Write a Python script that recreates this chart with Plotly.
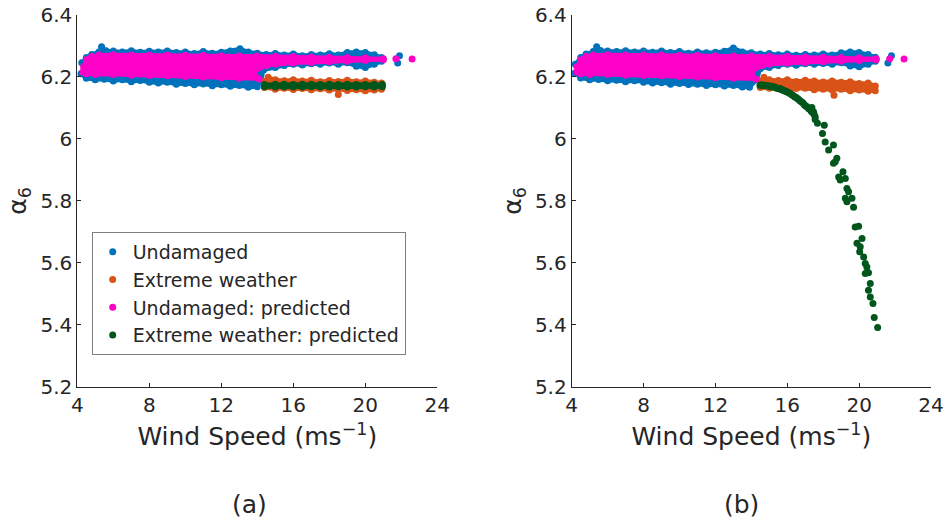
import plotly.graph_objects as go

# ---------------- colours ----------------
C_BLUE = "#0072BD"
C_ORANGE = "#D95319"
C_PINK = "#FF00C8"
C_GREEN = "#00561B"

# ---------------- axis ticks ----------------
x_ticks = [4, 8, 12, 16, 20, 24]
x_tick_labels = ["4", "8", "12", "16", "20", "24"]
y_ticks = [5.2, 5.4, 5.6, 5.8, 6.0, 6.2, 6.4]
y_tick_labels = ["5.2", "5.4", "5.6", "5.8", "6", "6.2", "6.4"]

# ---------------- (a) Undamaged cloud: upper / lower edge -------------
blue_a_top_x = [4.25, 4.5, 4.8, 5.2, 5.35, 5.6, 6.0, 6.5, 7.0, 7.5, 8.0, 8.5, 9.0, 9.5, 10.0, 10.5,
                11.0, 11.5, 12.0, 12.5, 13.04, 13.5, 14.0, 14.5, 15.0, 15.5, 16.0, 16.5, 17.0,
                17.5, 18.0, 18.5, 19.0, 19.5, 20.0, 20.5, 20.9]
blue_a_top_y = [6.245, 6.262, 6.272, 6.280, 6.297, 6.284, 6.283, 6.280, 6.284, 6.279, 6.282, 6.280,
                6.283, 6.278, 6.280, 6.275, 6.281, 6.276, 6.279, 6.283, 6.290, 6.280, 6.276, 6.272,
                6.275, 6.270, 6.273, 6.268, 6.272, 6.270, 6.274, 6.270, 6.278, 6.280, 6.278,
                6.271, 6.262]
blue_a_bot_x = [4.2, 4.5, 5.0, 5.5, 6.0, 6.5, 7.0, 7.5, 8.0, 8.5, 9.0, 9.5, 10.0, 10.5, 11.0, 11.5,
                12.0, 12.5, 13.0, 13.5, 14.0, 14.2, 14.35, 15.0, 15.5, 16.0, 16.5, 17.0, 17.5,
                18.0, 18.5, 19.0, 19.5, 20.0, 20.5, 20.9]
blue_a_bot_y = [6.210, 6.195, 6.190, 6.192, 6.186, 6.190, 6.184, 6.188, 6.182, 6.180, 6.182, 6.176,
                6.178, 6.174, 6.177, 6.171, 6.174, 6.169, 6.172, 6.166, 6.168, 6.185, 6.222, 6.230,
                6.236, 6.240, 6.238, 6.242, 6.240, 6.244, 6.240, 6.245, 6.234, 6.230, 6.240, 6.250]
blue_a_extra_x = [21.9, 21.8]
blue_a_extra_y = [6.268, 6.244]

# ---------------- (a) Extreme weather cloud ----------------
orange_a_top_x = [14.4, 14.6, 15.0, 15.5, 16.0, 16.5, 17.0, 17.5, 18.0, 18.5, 19.0, 19.5, 20.0, 20.5, 20.9]
orange_a_top_y = [6.185, 6.198, 6.190, 6.187, 6.190, 6.186, 6.189, 6.184, 6.188, 6.185, 6.189, 6.184,
                  6.186, 6.182, 6.180]
orange_a_bot_x = [14.4, 15.0, 15.5, 16.0, 16.5, 17.0, 17.5, 18.0, 18.5, 19.0, 19.5, 20.0, 20.5, 20.9]
orange_a_bot_y = [6.165, 6.160, 6.163, 6.159, 6.162, 6.158, 6.161, 6.157, 6.160, 6.156, 6.158, 6.155,
                  6.157, 6.160]
orange_a_extra_x = [18.5]
orange_a_extra_y = [6.143]

# ---------------- (a) Undamaged: predicted cloud ----------------
pink_a_top_x = [4.35, 4.5, 4.8, 5.2, 6.0, 7.0, 8.0, 9.0, 10.0, 11.0, 12.0, 13.0, 14.0, 15.0, 16.0,
                17.0, 18.0, 19.0, 20.0, 21.0]
pink_a_top_y = [6.232, 6.255, 6.265, 6.270, 6.271, 6.270, 6.270, 6.270, 6.269, 6.269, 6.268, 6.267,
                6.267, 6.266, 6.265, 6.264, 6.263, 6.262, 6.261, 6.258]
pink_a_bot_x = [4.3, 4.5, 5.0, 6.0, 7.0, 8.0, 9.0, 10.0, 11.0, 12.0, 13.0, 14.1, 13.8, 14.5, 15.0,
                16.0, 17.0, 18.0, 19.0, 20.0, 21.0]
pink_a_bot_y = [6.215, 6.210, 6.207, 6.207, 6.205, 6.204, 6.203, 6.201, 6.199, 6.197, 6.195, 6.193,
                6.215, 6.236, 6.240, 6.244, 6.246, 6.248, 6.250, 6.252, 6.255]
pink_a_extra_x = [21.7, 22.6]
pink_a_extra_y = [6.258, 6.257]

# ---------------- (a) Extreme weather: predicted ----------------
green_a_top_x = [14.4, 15.0, 15.5, 16.0, 16.5, 17.0, 17.5, 18.0, 18.5, 19.0, 19.5, 20.0, 20.5, 20.95]
green_a_top_y = [6.175, 6.176, 6.176, 6.175, 6.176, 6.176, 6.175, 6.176, 6.175, 6.176, 6.175, 6.175,
                 6.176, 6.175]
green_a_bot_x = [14.4, 15.0, 15.5, 16.0, 16.5, 17.0, 17.5, 18.0, 18.5, 19.0, 19.5, 20.0, 20.5, 20.95]
green_a_bot_y = [6.168, 6.167, 6.168, 6.167, 6.167, 6.168, 6.167, 6.167, 6.168, 6.167, 6.167, 6.168,
                 6.167, 6.168]

# ---------------- (b) Undamaged cloud ----------------
blue_b_top_x = [4.2, 4.5, 4.8, 5.2, 5.39, 5.6, 6.0, 6.5, 7.0, 7.5, 8.0, 8.5, 9.0, 9.5, 10.0, 10.5,
                11.0, 11.5, 12.0, 12.5, 13.0, 13.5, 14.0, 14.5, 15.0, 15.5, 16.0, 16.5, 17.0,
                17.5, 18.0, 18.5, 19.0, 19.5, 20.0, 20.5, 20.9]
blue_b_top_y = [6.240, 6.262, 6.273, 6.281, 6.297, 6.285, 6.283, 6.281, 6.284, 6.280, 6.283, 6.279,
                6.283, 6.278, 6.281, 6.276, 6.280, 6.277, 6.279, 6.282, 6.293, 6.280, 6.277, 6.273,
                6.275, 6.271, 6.273, 6.269, 6.272, 6.270, 6.273, 6.270, 6.277, 6.280, 6.278,
                6.272, 6.263]
blue_b_bot_x = [4.18, 4.5, 5.0, 5.5, 6.0, 6.5, 7.0, 7.5, 8.0, 8.5, 9.0, 9.5, 10.0, 10.5, 11.0, 11.5,
                12.0, 12.5, 13.0, 13.5, 13.9, 14.3, 14.5, 15.0, 15.5, 16.0, 16.5, 17.0, 17.5,
                18.0, 18.5, 19.0, 19.5, 20.0, 20.5, 20.9]
blue_b_bot_y = [6.212, 6.196, 6.190, 6.191, 6.187, 6.189, 6.184, 6.187, 6.182, 6.180, 6.181, 6.176,
                6.178, 6.175, 6.176, 6.172, 6.174, 6.170, 6.172, 6.167, 6.166, 6.190, 6.226, 6.230,
                6.236, 6.240, 6.237, 6.242, 6.240, 6.243, 6.240, 6.245, 6.235, 6.232, 6.240, 6.250]
blue_b_extra_x = [21.8, 21.6]
blue_b_extra_y = [6.268, 6.244]

# ---------------- (b) Extreme weather cloud ----------------
orange_b_top_x = [14.5, 14.7, 15.0, 15.5, 16.0, 16.5, 17.0, 17.5, 18.0, 18.5, 19.0, 19.5, 20.0, 20.5, 20.9]
orange_b_top_y = [6.185, 6.198, 6.190, 6.188, 6.190, 6.185, 6.189, 6.186, 6.183, 6.186, 6.182, 6.184,
                  6.178, 6.180, 6.170]
orange_b_bot_x = [14.5, 15.0, 15.5, 16.0, 16.5, 17.0, 17.5, 18.0, 18.5, 19.0, 19.5, 20.0, 20.5, 20.9]
orange_b_bot_y = [6.165, 6.163, 6.166, 6.160, 6.162, 6.163, 6.158, 6.160, 6.157, 6.160, 6.155, 6.157,
                  6.153, 6.155]
orange_b_extra_x = [18.6]
orange_b_extra_y = [6.140]

# ---------------- (b) Undamaged: predicted cloud ----------------
pink_b_top_x = [4.3, 4.5, 4.8, 5.2, 6.0, 7.0, 8.0, 9.0, 10.0, 11.0, 12.0, 13.0, 14.0, 15.0, 16.0,
                17.0, 18.0, 19.0, 20.0, 20.95]
pink_b_top_y = [6.232, 6.255, 6.265, 6.270, 6.271, 6.270, 6.270, 6.270, 6.269, 6.269, 6.268, 6.267,
                6.267, 6.266, 6.265, 6.264, 6.263, 6.262, 6.261, 6.258]
pink_b_bot_x = [4.3, 4.5, 5.0, 6.0, 7.0, 8.0, 9.0, 10.0, 11.0, 12.0, 13.0, 14.25, 14.0, 14.6, 15.0,
                16.0, 17.0, 18.0, 19.0, 20.0, 20.95]
pink_b_bot_y = [6.215, 6.210, 6.207, 6.207, 6.205, 6.204, 6.203, 6.201, 6.199, 6.197, 6.195, 6.193,
                6.215, 6.236, 6.240, 6.244, 6.246, 6.248, 6.250, 6.252, 6.255]
pink_b_extra_x = [21.7, 22.5]
pink_b_extra_y = [6.258, 6.257]

# ---------------- (b) Extreme weather: predicted (individual points) ----------------
green_b_x = [14.48, 14.55, 14.62, 14.70, 14.78, 14.85, 14.93, 15.00, 15.08, 15.15, 15.23, 15.30,
             15.38, 15.45, 15.52, 15.60, 15.68, 15.75, 15.83, 15.90, 15.98, 16.05, 16.12, 16.20,
             16.27, 16.35, 16.42, 16.50, 16.58, 16.65, 16.72, 16.80, 16.88, 16.95, 17.02, 17.10,
             17.18, 17.25, 17.32, 17.37, 17.40, 17.46, 17.50, 17.55, 17.55, 17.68, 18.06, 17.96,
             18.11, 18.30, 18.57, 18.76, 18.57, 18.67, 19.10, 18.86, 19.23, 18.95, 19.32, 19.41,
             19.23, 19.60, 19.32, 19.69, 19.78, 19.97, 19.88, 20.16, 20.06, 20.03, 20.25, 20.34,
             20.43, 20.52, 20.34, 20.62, 20.52, 20.62, 20.77, 20.84, 21.03]
green_b_y = [6.173, 6.174, 6.172, 6.173, 6.171, 6.172, 6.170, 6.170, 6.168, 6.169, 6.166, 6.167,
             6.164, 6.163, 6.161, 6.162, 6.158, 6.157, 6.155, 6.153, 6.152, 6.149, 6.147, 6.145,
             6.141, 6.139, 6.135, 6.133, 6.129, 6.126, 6.122, 6.119, 6.115, 6.110, 6.106, 6.103,
             6.098, 6.096, 6.090, 6.101, 6.085, 6.087, 6.078, 6.071, 6.062, 6.050, 6.044, 6.017,
             5.990, 5.964, 5.980, 5.937, 5.921, 5.926, 5.894, 5.877, 5.872, 5.867, 5.840, 5.829,
             5.808, 5.808, 5.797, 5.779, 5.716, 5.718, 5.663, 5.679, 5.652, 5.636, 5.619, 5.598,
             5.587, 5.568, 5.566, 5.534, 5.512, 5.490, 5.469, 5.424, 5.392]

MS = 7  # marker diameter (px)

fig = go.Figure()


def add_cloud(top_x, top_y, bot_x, bot_y, ex_x, ex_y, color, name, xa, ya, legend):
    # filled body of a dense point cloud (outline through the edge points)
    fig.add_trace(go.Scatter(
        x=list(top_x) + list(reversed(bot_x)),
        y=list(top_y) + list(reversed(bot_y)),
        mode="lines", fill="toself", fillcolor=color,
        line=dict(color=color, width=4),
        hoverinfo="skip", showlegend=False, xaxis=xa, yaxis=ya))
    # the edge points themselves plus stray points
    fig.add_trace(go.Scatter(
        x=list(top_x) + list(bot_x) + list(ex_x),
        y=list(top_y) + list(bot_y) + list(ex_y),
        mode="markers", marker=dict(color=color, size=MS, line=dict(width=0)),
        name=name, showlegend=legend, xaxis=xa, yaxis=ya))


# panel (a)
add_cloud(blue_a_top_x, blue_a_top_y, blue_a_bot_x, blue_a_bot_y, blue_a_extra_x, blue_a_extra_y,
          C_BLUE, "Undamaged", "x", "y", True)
add_cloud(orange_a_top_x, orange_a_top_y, orange_a_bot_x, orange_a_bot_y, orange_a_extra_x,
          orange_a_extra_y, C_ORANGE, "Extreme weather", "x", "y", True)
add_cloud(pink_a_top_x, pink_a_top_y, pink_a_bot_x, pink_a_bot_y, pink_a_extra_x, pink_a_extra_y,
          C_PINK, "Undamaged: predicted", "x", "y", True)
add_cloud(green_a_top_x, green_a_top_y, green_a_bot_x, green_a_bot_y, [], [],
          C_GREEN, "Extreme weather: predicted", "x", "y", True)

# panel (b)
add_cloud(blue_b_top_x, blue_b_top_y, blue_b_bot_x, blue_b_bot_y, blue_b_extra_x, blue_b_extra_y,
          C_BLUE, "Undamaged", "x2", "y2", False)
add_cloud(orange_b_top_x, orange_b_top_y, orange_b_bot_x, orange_b_bot_y, orange_b_extra_x,
          orange_b_extra_y, C_ORANGE, "Extreme weather", "x2", "y2", False)
add_cloud(pink_b_top_x, pink_b_top_y, pink_b_bot_x, pink_b_bot_y, pink_b_extra_x, pink_b_extra_y,
          C_PINK, "Undamaged: predicted", "x2", "y2", False)
fig.add_trace(go.Scatter(x=green_b_x, y=green_b_y, mode="markers",
                         marker=dict(color=C_GREEN, size=MS, line=dict(width=0)),
                         name="Extreme weather: predicted", showlegend=False,
                         xaxis="x2", yaxis="y2"))

FONT = "DejaVu Sans"
TXT = "#262626"
W, H = 950, 518

common_x = dict(range=[4, 24], tickvals=x_ticks, ticktext=x_tick_labels, showgrid=False,
                zeroline=False, showline=True, linecolor=TXT, linewidth=1, ticks="inside",
                ticklen=4, tickcolor=TXT, tickfont=dict(family=FONT, size=20, color=TXT),
                title=dict(text="Wind Speed (ms<sup>−1</sup>)", standoff=11,
                           font=dict(family=FONT, size=25, color=TXT)),
                automargin=False, fixedrange=True)
common_y = dict(range=[5.2, 6.4], tickvals=y_ticks, ticktext=y_tick_labels, showgrid=False,
                zeroline=False, showline=True, linecolor=TXT, linewidth=1, ticks="inside",
                ticklen=4, tickcolor=TXT, tickfont=dict(family=FONT, size=20, color=TXT),
                title=dict(text="α<sub>6</sub>", standoff=6,
                           font=dict(family=FONT, size=25, color=TXT)),
                automargin=False, fixedrange=True)

y_dom = [1 - 387 / H, 1 - 14.7 / H]
fig.update_layout(
    width=W, height=H, margin=dict(l=0, r=0, t=0, b=0),
    paper_bgcolor="white", plot_bgcolor="white",
    font=dict(family=FONT, color=TXT),
    xaxis=dict(domain=[77.3 / W, 437.3 / W], anchor="y", **common_x),
    yaxis=dict(domain=y_dom, anchor="x", **common_y),
    xaxis2=dict(domain=[571.7 / W, 931 / W], anchor="y2", **common_x),
    yaxis2=dict(domain=y_dom, anchor="x2", **common_y),
    legend=dict(x=91.7 / W, y=1 - 232 / H, xanchor="left", yanchor="top",
                bgcolor="white", bordercolor="#7f7f7f", borderwidth=1,
                font=dict(family=FONT, size=19, color=TXT),
                tracegroupgap=0),
    showlegend=True,
    annotations=[
        dict(text="(a)", x=249 / W, y=1 - 504 / H, xref="paper", yref="paper",
             xanchor="center", yanchor="middle",
             showarrow=False, font=dict(family=FONT, size=25, color=TXT)),
        dict(text="(b)", x=741 / W, y=1 - 504 / H, xref="paper", yref="paper",
             xanchor="center", yanchor="middle",
             showarrow=False, font=dict(family=FONT, size=25, color=TXT)),
    ],
)

fig.write_html("out.html")
